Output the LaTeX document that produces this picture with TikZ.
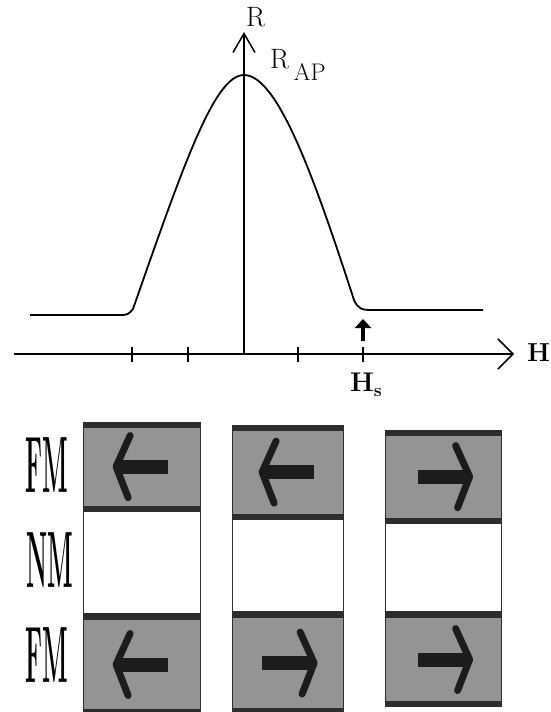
\documentclass[tikz,border=0pt]{standalone}
\usepackage{fontspec}
\usepackage{tikz}
\usetikzlibrary{arrows.meta,positioning,calc}
\definecolor{layergray}{RGB}{148,148,148}
\definecolor{darkband}{RGB}{45,45,45}
\definecolor{spinblack}{RGB}{28,28,28}

\begin{document}
\begin{tikzpicture}[x=1pt, y=-1pt]
\tikzstyle{axis} = [line width=1.5pt, draw=black]
\tikzstyle{curve} = [line width=1.8pt, line join=round]
\tikzstyle{tick} = [line width=1.3pt]
\tikzstyle{fm} = [rectangle, draw=darkband, line width=1.2pt, fill=layergray, inner sep=0pt]
\tikzstyle{nm} = [rectangle, draw=darkband, line width=1.2pt, fill=white, inner sep=0pt]
\tikzstyle{band} = [line width=5pt, draw=darkband]
\tikzstyle{shaft} = [line width=14pt, draw=spinblack]
\tikzstyle{head} = [line width=7pt, draw=spinblack, line cap=round, line join=round]
\tikzstyle{layername} = [font=\fontsize{40}{40}\selectfont\bfseries, inner sep=0pt]
\tikzstyle{axislabel} = [font=\fontsize{28}{28}\selectfont, inner sep=0pt]

\useasboundingbox (0,0) rectangle (551,712);

% axes
\coordinate (origin) at (244,354);
\coordinate (hstart) at (14,354);
\coordinate (hend) at (514,354);
\coordinate (vend) at (244,32);
\draw[axis, -{Straight Barb[length=15pt,width=30pt]}] (hstart) -- (hend);
\draw[axis, -{Straight Barb[length=19pt,width=22pt]}] (origin) -- (vend);
\foreach \tx in {132,188,298,363}
  \draw[tick] (\tx,347) -- (\tx,362);

\node[axislabel, anchor=base west] (rlabel) at (246,27) {R};
\node[axislabel, anchor=base west] (raplabel) at (270,68) {R\,\raisebox{-12pt}{\fontsize{24}{24}\selectfont AP}};
\node[anchor=base west, inner sep=0pt, font=\fontsize{26}{26}\selectfont\bfseries] (hlabel) at (527,361) {H};
\node[anchor=base west, inner sep=0pt, font=\fontsize{27}{27}\selectfont\bfseries] (hslabel) at (350,391) {H\raisebox{-5pt}{\fontsize{18}{18}\selectfont s}};

% resistance curve
\draw[curve] (30,315) -- (122,315) .. controls (127,315) and (129,314) .. (133,309)
  .. controls (185,160) and (215,75) .. (244,75)
  .. controls (278,75) and (315,180) .. (354,300)
  .. controls (358,309) and (362,310) .. (372,310) -- (483,310);

% switching field marker
\coordinate (hsfoot) at (363,341);
\coordinate (hshead) at (363,319);
\draw[line width=3.5pt, -{Triangle[length=9pt,width=16pt]}] (hsfoot) -- (hshead);

% trilayer stacks
\node[fm, minimum width=117, minimum height=88, anchor=north west] (c1top) at (83,422) {};
\node[nm, minimum width=117, minimum height=102, below=0pt of c1top] (c1mid) {};
\node[fm, minimum width=117, minimum height=99, below=0pt of c1mid] (c1bot) {};

\node[fm, minimum width=111, minimum height=93, anchor=north west] (c2top) at (232,425) {};
\node[nm, minimum width=111, minimum height=92, below=0pt of c2top] (c2mid) {};
\node[fm, minimum width=111, minimum height=100, below=0pt of c2mid] (c2bot) {};

\node[fm, minimum width=116, minimum height=92, anchor=north west] (c3top) at (385,430) {};
\node[nm, minimum width=116, minimum height=88, below=0pt of c3top] (c3mid) {};
\node[fm, minimum width=116, minimum height=93, below=0pt of c3mid] (c3bot) {};

\foreach \lay in {c1top,c1bot,c2top,c2bot,c3top,c3bot} {
  \draw[band] ([yshift=-3pt]\lay.north west) -- ([yshift=-3pt]\lay.north east);
  \draw[band] ([yshift=3pt]\lay.south west) -- ([yshift=3pt]\lay.south east);
}

% magnetisation arrows
\foreach \lay/\dir in {c1top/-1, c2top/-1, c3top/1, c1bot/-1, c2bot/1, c3bot/1} {
  \draw[shaft] ($(\lay.center)+({\dir*(-26)},0)$) -- ($(\lay.center)+({\dir*22},0)$);
  \draw[head] ($(\lay.center)+({\dir*12},-31)$) -- ($(\lay.center)+({\dir*26},0)$) -- ($(\lay.center)+({\dir*14},31)$);
}

\node[layername] (fmupper) at (47,465) {\scalebox{0.6}[2]{FM}};
\node[layername] (nmlabel) at (50,560) {\scalebox{0.6}[2]{NM}};
\node[layername] (fmlower) at (47,655) {\scalebox{0.6}[2]{FM}};
\end{tikzpicture}
\end{document}
